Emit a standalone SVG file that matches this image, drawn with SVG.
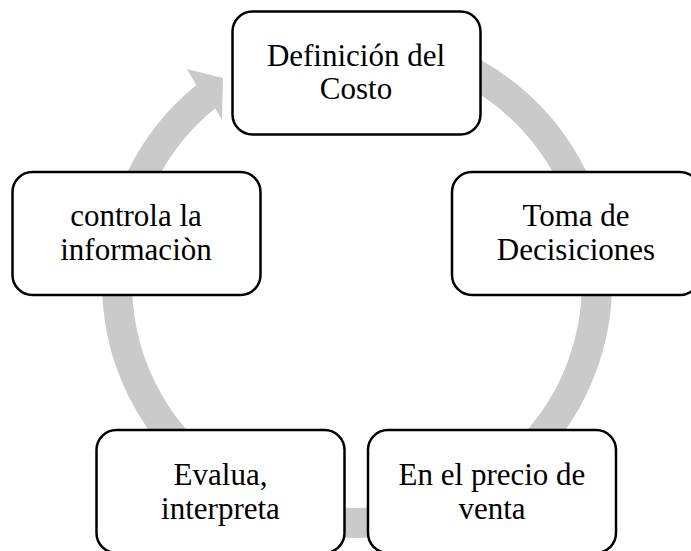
<svg xmlns="http://www.w3.org/2000/svg" width="691" height="551" viewBox="0 0 691 551">
  <style>
    .box { fill: #ffffff; stroke: #000000; stroke-width: 2.5; }
    .lbl { font-family: "Liberation Serif", "Times New Roman", serif; font-size: 31px; fill: #000000; text-anchor: middle; }
    .ring { fill: none; stroke: #CACACA; stroke-width: 30; stroke-linecap: butt; }
    .head { fill: #CACACA; stroke: none; }
  </style>
  <rect width="691" height="551" fill="#ffffff"/>
  <g id="connectors">
    <path class="ring" d="M 377.9 43.9 A 240 240 0 1 1 205.8 96.6"/>
    <polygon class="head" points="198.5,88 196.3,85 187,69 223,78 222,120 215.2,108.3 212,105"/>
  </g>
  <g id="node-definicion">
    <rect class="box" x="232.5" y="11.5" width="248" height="123" rx="20" ry="20"/>
    <text class="lbl" x="356" y="65.5">Definición del</text>
    <text class="lbl" x="356" y="99">Costo</text>
  </g>
  <g id="node-toma">
    <rect class="box" x="452" y="172" width="248" height="123" rx="20" ry="20"/>
    <text class="lbl" x="576" y="226">Toma de</text>
    <text class="lbl" x="576" y="259.5">Decisiciones</text>
  </g>
  <g id="node-precio">
    <rect class="box" x="368" y="430" width="248" height="123" rx="20" ry="20"/>
    <text class="lbl" x="492" y="485">En el precio de</text>
    <text class="lbl" x="492" y="518.5">venta</text>
  </g>
  <g id="node-evalua">
    <rect class="box" x="96.5" y="430" width="248" height="123" rx="20" ry="20"/>
    <text class="lbl" x="220.5" y="485">Evalua,</text>
    <text class="lbl" x="220.5" y="518.5">interpreta</text>
  </g>
  <g id="node-controla">
    <rect class="box" x="12.5" y="172" width="248" height="123" rx="20" ry="20"/>
    <text class="lbl" x="136" y="226">controla la</text>
    <text class="lbl" x="136" y="259.5">informaciòn</text>
  </g>
</svg>
